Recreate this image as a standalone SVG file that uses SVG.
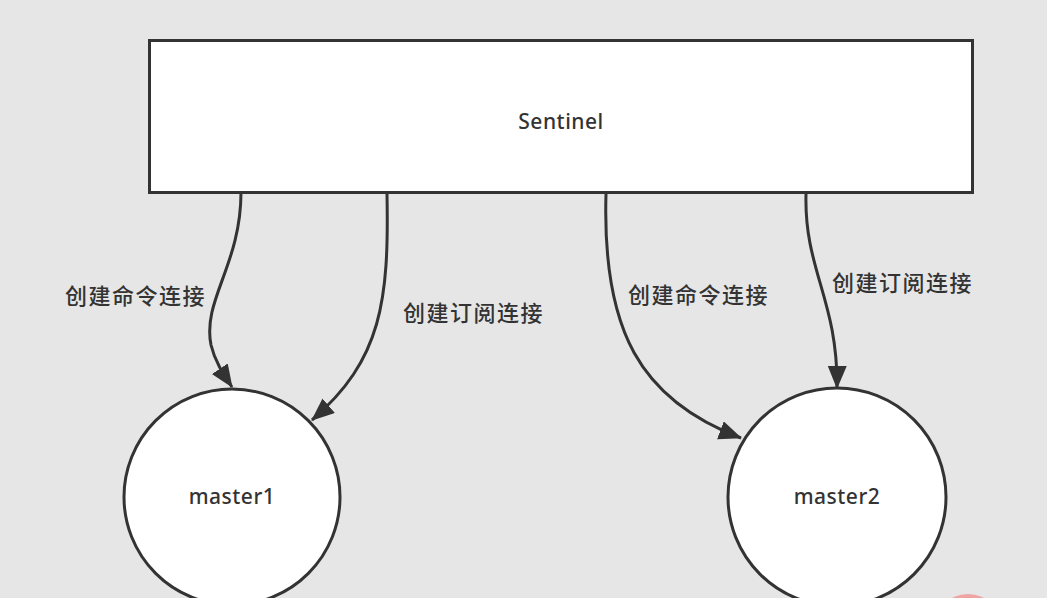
<svg xmlns="http://www.w3.org/2000/svg" width="1047" height="598" viewBox="0 0 1047 598">
  <defs>
    <style>
      .node { fill: #ffffff; stroke: #333333; stroke-width: 3; }
      .label { font-family: "Noto Sans", "Liberation Sans", sans-serif; font-size: 21px; font-weight: 500; fill: #333333; text-anchor: middle; letter-spacing: 0.5px; }
      .edge { fill: none; stroke: #333333; stroke-width: 3; }
      .elabel { font-family: "Noto Sans CJK SC", "Noto Sans", sans-serif; font-size: 22px; font-weight: 500; fill: #333333; letter-spacing: 1.5px; }
    </style>
    <marker id="arrow" markerUnits="userSpaceOnUse" markerWidth="26" markerHeight="20" refX="22" refY="9.5" orient="auto">
      <path d="M0,0 L23,9.5 L0,19 z" fill="#333333"/>
    </marker>
  </defs>
  <rect x="0" y="0" width="1047" height="598" fill="#e6e6e6"/>

  <g id="sentinel">
    <rect class="node" x="149.5" y="40.5" width="823" height="152"/>
    <text class="label" x="561" y="129">Sentinel</text>
  </g>

  <g id="master1">
    <circle class="node" cx="232" cy="497" r="108"/>
    <text class="label" x="232" y="504">master1</text>
  </g>

  <g id="master2">
    <circle class="node" cx="837" cy="497" r="109"/>
    <text class="label" x="837" y="504">master2</text>
  </g>

  <g id="connectors">
    <path class="edge" d="M241,192 C241,265 202,300 211,345 C215,362 224,375 232,387" marker-end="url(#arrow)"/>
    <path class="edge" d="M387,194 C389,300 382,360 312,420" marker-end="url(#arrow)"/>
    <path class="edge" d="M606,194 C602,330 640,400 741,438" marker-end="url(#arrow)"/>
    <path class="edge" d="M806,194 C804,270 838,300 837,388" marker-end="url(#arrow)"/>
    <text class="elabel" x="65" y="304">创建命令连接</text>
    <text class="elabel" x="403" y="321">创建订阅连接</text>
    <text class="elabel" x="628" y="303">创建命令连接</text>
    <text class="elabel" x="832" y="291">创建订阅连接</text>
  </g>

  <circle cx="968" cy="628" r="34" fill="#f0a3a3"/>
</svg>
